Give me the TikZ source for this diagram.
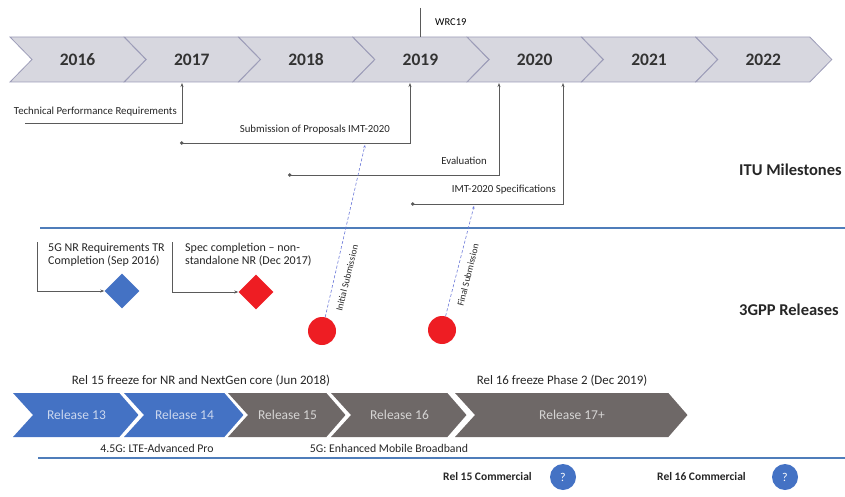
\documentclass[tikz,border=0pt]{standalone}
\usepackage{fontspec}
\setmainfont{Carlito}
\usetikzlibrary{shapes.geometric,arrows.meta}

\definecolor{chevfill}{HTML}{D7D7DF}
\definecolor{chevline}{HTML}{9C9CB8}
\definecolor{relblue}{HTML}{4472C4}
\definecolor{relgray}{HTML}{6E6867}
\definecolor{rulebl}{HTML}{4F7DBA}
\definecolor{msgray}{HTML}{5A5A5A}
\definecolor{subred}{HTML}{EE1D23}
\definecolor{subline}{HTML}{6A78D8}

\begin{document}
\begin{tikzpicture}[x=1pt,y=-1pt,
    yearbar/.style={fill=chevfill,draw=chevline,line width=0.8pt},
    yeartext/.style={font=\fontsize{17.5}{20}\selectfont\bfseries,text=black!80},
    ms/.style={draw=msgray,line width=0.9pt,-{Stealth[length=4pt,width=3pt]}},
    msdot/.style={ms,{Circle[length=3.5pt]}-{Stealth[length=4pt,width=3pt]}},
    mslabel/.style={font=\fontsize{10.8}{12}\selectfont,text=black!85,anchor=east,inner sep=0pt},
    heading/.style={font=\fontsize{16.5}{19}\selectfont\bfseries,text=black!85,anchor=west,inner sep=0pt},
    bluerule/.style={draw=rulebl,line width=1.2pt},
    milestone/.style={diamond,minimum size=35pt,inner sep=0pt},
    subdot/.style={circle,fill=subred,minimum size=28pt,inner sep=0pt},
    subarrow/.style={draw=subline,line width=0.6pt,dash pattern=on 3pt off 2pt,-{Stealth[length=3pt,width=2.5pt]}},
    sublabel/.style={font=\fontsize{9.5}{10}\selectfont,text=black!85,rotate=76,inner sep=0pt},
    relbar/.style={draw=white,line width=2pt},
    reltext/.style={font=\fontsize{13.5}{15}\selectfont},
    note/.style={font=\fontsize{11.8}{13}\selectfont,text=black!85,inner sep=0pt},
    brtext/.style={font=\fontsize{12}{12.8}\selectfont,text=black!85,inner sep=0pt,align=left,anchor=north west},
    qmark/.style={circle,fill=relblue,minimum size=26pt,inner sep=0pt,text=white,font=\fontsize{12}{14}\selectfont}]

\useasboundingbox (0,0) rectangle (845,497);

% Year timeline
\foreach \yr [count=\i from 0] in {2016,2017,2018,2019,2020,2021,2022} {
  \draw[yearbar] (10+114.3*\i,37) -- ++(114,0) -- ++(22,22.5) -- ++(-22,22.5)
    -- ++(-114,0) -- ++(22,-22.5) -- cycle;
  \node[yeartext] (y\yr) at (77.5+114.3*\i,60) {\yr};
}

% WRC19
\coordinate (wrcT) at (420,8);
\coordinate (wrcB) at (420,37);
\draw[draw=msgray,line width=0.9pt] (wrcT) -- (wrcB);
\node[font=\fontsize{10.5}{12}\selectfont,anchor=west,inner sep=0pt] (wrc) at (435,22) {WRC19};

% ITU milestones
\coordinate (tprS) at (25,123);
\coordinate (tprE) at (182,83);
\draw[ms] (tprS) -| (tprE);
\node[mslabel] (tpr) at (177,112) {Technical Performance Requirements};

\coordinate (subS) at (180,143);
\coordinate (subE) at (410,83);
\draw[msdot] (subS) -| (subE);
\node[mslabel] (sub) at (390,130) {Submission of Proposals IMT-2020};

\coordinate (evalS) at (288,175);
\coordinate (evalE) at (499,83);
\draw[msdot] (evalS) -| (evalE);
\node[mslabel] (eval) at (487,161) {Evaluation};

\coordinate (specS) at (411,204);
\coordinate (specE) at (563,83);
\draw[msdot] (specS) -| (specE);
\node[mslabel] (spec) at (556,190) {IMT-2020 Specifications};

\node[heading] (itu) at (739,170) {ITU Milestones};

\coordinate (ruleA) at (40,228);
\coordinate (ruleB) at (845,228);
\draw[bluerule] (ruleA) -- (ruleB);

% 3GPP milestones
\node[milestone,fill=relblue] (dia1) at (122,291) {};
\node[milestone,fill=subred] (dia2) at (256,292) {};
\coordinate (br1) at (37,242);
\coordinate (br2) at (172,242);
\draw[ms] (br1) |- (dia1);
\draw[ms] (br2) |- (dia2);
\node[brtext] (tr) at (48,243) {5G NR Requirements TR\\Completion (Sep 2016)};
\node[brtext] (nsa) at (185,243) {Spec completion -- non-\\standalone NR (Dec 2017)};

\node[subdot] (init) at (322,331) {};
\node[subdot] (final) at (442,330) {};
\coordinate (initT) at (365,145);
\coordinate (finalT) at (474,206);
\draw[subarrow] (init) -- (initT);
\draw[subarrow] (final) -- (finalT);
\node[sublabel] (initL) at (347,278) {Initial Submission};
\node[sublabel] (finalL) at (468,275) {Final Submission};

\node[heading] (gpp) at (739,310) {3GPP Releases};

% Releases
\foreach \xl/\xr/\col/\txt [count=\i] in {13/120/relblue/Release 13,124/225/relblue/Release 14,
    228/327/relgray/Release 15,331/448/relgray/Release 16,455/669/relgray/Release 17+} {
  \fill[\col] (\xl,393) -- (\xr,393) -- (\xr+20,415) -- (\xr,437) -- (\xl,437) -- (\xl+20,415) -- cycle;
  \draw[relbar] (\xr,392) -- (\xr+20,415) -- (\xr,438);
  \node[reltext,text=white!72!\col] (rel\i) at ({(\xl+\xr)/2+10},415) {\txt};
}

\node[note,font=\fontsize{12.9}{14}\selectfont] (fr15) at (201,381) {Rel 15 freeze for NR and NextGen core (Jun 2018)};
\node[note,font=\fontsize{12.9}{14}\selectfont] (fr16) at (562,381) {Rel 16 freeze Phase 2 (Dec 2019)};
\node[note] (lte) at (157,448) {4.5G: LTE-Advanced Pro};
\node[note] (embb) at (389,448) {5G: Enhanced Mobile Broadband};

\coordinate (ruleC) at (38,458);
\coordinate (ruleD) at (845,458);
\draw[bluerule] (ruleC) -- (ruleD);

\node[note,font=\fontsize{11.5}{13}\selectfont\bfseries,anchor=west] (com15) at (443,477) {Rel 15 Commercial};
\node[qmark] (q15) at (563,477) {?};
\node[note,font=\fontsize{11.5}{13}\selectfont\bfseries,anchor=west] (com16) at (657,477) {Rel 16 Commercial};
\node[qmark] (q16) at (785,477) {?};

\end{tikzpicture}
\end{document}
